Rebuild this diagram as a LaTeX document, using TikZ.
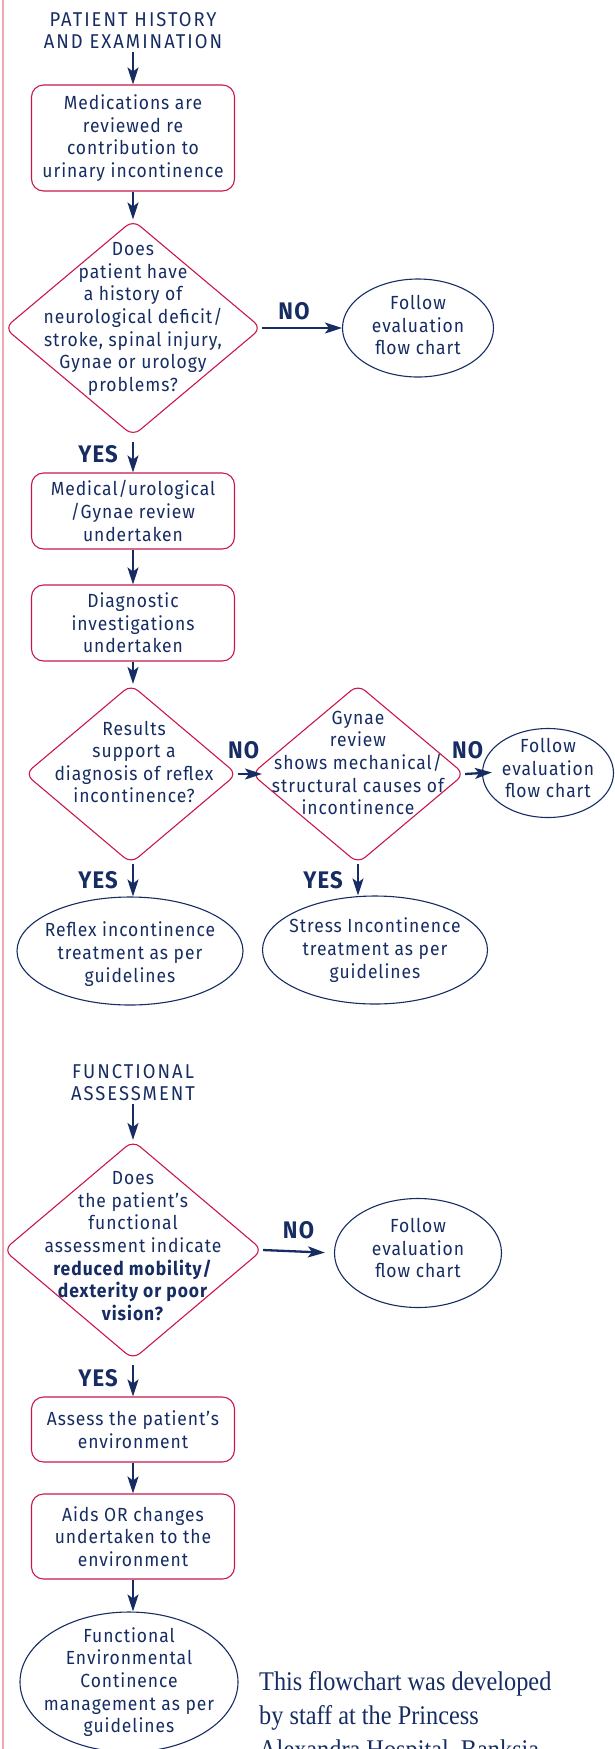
\documentclass[tikz,border=0pt]{standalone}
\usepackage{fontspec}
\setsansfont[LetterSpace=5.0, FakeStretch=0.92]{Fira Sans}
\newfontfamily\notefont[FakeStretch=0.9]{Liberation Serif}
\usetikzlibrary{arrows.meta,positioning,shapes.geometric}

\definecolor{navy}{RGB}{22,44,98}
\definecolor{crimson}{RGB}{200,24,74}
\definecolor{edgepink}{RGB}{238,170,180}

\begin{document}
\begin{tikzpicture}[
  x=1pt, y=-1pt,
  font=\sffamily\fontsize{19}{22.6}\selectfont,
  text=navy,
  box/.style={draw=crimson, line width=1.1pt, rounded corners=12pt, align=center, minimum width=203pt, inner sep=0pt},
  decision/.style={diamond, draw=crimson, line width=1.1pt, rounded corners=9pt, inner sep=0pt},
  term/.style={ellipse, draw=navy, line width=1.1pt, inner sep=0pt},
  inside/.style={align=center, text=navy, inner sep=0pt},
  heading/.style={align=center, inner sep=3pt, font=\sffamily\fontsize{20}{22}\selectfont\addfontfeature{LetterSpace=10.0}},
  answer/.style={font=\sffamily\bfseries\fontsize{24}{24}\selectfont, inner sep=2pt},
  note/.style={align=left, inner sep=0pt, font=\notefont\fontsize{27}{34}\selectfont},
  flow/.style={-{Stealth[length=17pt, width=11pt, inset=4pt]}, line width=2.3pt, draw=navy}
]
\useasboundingbox (0,0) rectangle (614,1749);
\draw[edgepink, line width=1.5pt] (3,0) -- (3,1749);

% patient history
\node[heading] (hist) at (133,31) {PATIENT HISTORY\\AND EXAMINATION};
\node[box, minimum height=106pt] (meds) at (133,138)
  {Medications are\\reviewed re\\contribution to\\urinary incontinence};
\node[decision, minimum width=257pt, minimum height=216pt,
  label={[inside, yshift=9pt]center:{Does\\patient have\\a history of\\neurological deficit/\\stroke, spinal injury,\\Gynae or urology\\problems?}}] (hasnr) at (133,328) {};
\node[term, minimum width=151pt, minimum height=98pt,
  label={[inside, yshift=3pt]center:{Follow\\evaluation\\flow chart}}] (evalA) at (418,328) {};
\node[box, minimum height=76pt] (review) at (133,511)
  {Medical/urological\\/Gynae review\\undertaken};
\node[box, minimum height=76pt] (diag) at (133,623)
  {Diagnostic\\investigations\\undertaken};
\node[decision, minimum width=212pt, minimum height=179pt,
  label={[inside, yshift=12pt, xshift=3pt]center:{Results\\support a\\diagnosis of reflex\\incontinence?}}] (results) at (131,774) {};
\node[decision, minimum width=213pt, minimum height=179pt,
  label={[inside, yshift=11pt]center:{Gynae\\review\\shows mechanical/\\structural causes of\\incontinence}}] (gynae) at (358,774) {};
\node[term, minimum width=131pt, minimum height=89pt,
  label={[inside, yshift=5pt]center:{Follow\\evaluation\\flow chart}}] (evalB) at (548,773) {};
\node[term, minimum width=226pt, minimum height=108pt,
  label={[inside, yshift=-3pt]center:{Reflex incontinence\\treatment as per\\guidelines}}] (reflex) at (130,951) {};
\node[term, minimum width=225pt, minimum height=108pt,
  label={[inside]center:{Stress Incontinence\\treatment as per\\guidelines}}] (stress) at (375,950) {};

\draw[flow] (hist.south) -- (meds.north);
\draw[flow] (meds.south) -- (hasnr.north);
\draw[flow] (hasnr.east) -- node[answer, above=5pt, pos=0.4] {NO} (evalA.west);
\draw[flow, shorten <=5pt] (hasnr.south) -- node[answer, left=12pt] {YES} (review.north);
\draw[flow] (review.south) -- (diag.north);
\draw[flow] (diag.south) -- (diag.south |- results.north);
\draw[flow, shorten >=-11pt] (results.east) -- node[answer, above=12pt, pos=0.45] {NO} (gynae.west);
\draw[flow, shorten >=-10pt] (gynae.east) -- node[answer, above=12pt, pos=0.15] {NO} (evalB.west);
\draw[flow] (results.south -| diag.south) -- node[answer, left=12pt] {YES} (diag.south |- reflex.north);
\draw[flow] (gynae.south) -- node[answer, left=12pt] {YES} (gynae.south |- stress.north);

% functional assessment
\node[heading] (func) at (133,1083) {FUNCTIONAL\\ASSESSMENT};
\node[decision, minimum width=259pt, minimum height=219pt,
  label={[inside, yshift=4pt]center:{Does\\the patient’s\\functional\\assessment indicate\\\textbf{reduced mobility/}\\\textbf{dexterity or poor}\\\textbf{vision?}}}] (mobility) at (133,1250) {};
\node[term, minimum width=167pt, minimum height=109pt,
  label={[inside, yshift=5pt]center:{Follow\\evaluation\\flow chart}}] (evalC) at (418,1253) {};
\node[box, minimum height=65pt] (assess) at (133,1429.5)
  {Assess the patient’s\\environment};
\node[box, minimum height=85pt] (aids) at (133,1536.5)
  {Aids OR changes\\undertaken to the\\environment};
\node[term, minimum width=218pt, minimum height=140pt,
  label={[inside]center:{Functional\\Environmental\\Continence\\management as per\\guidelines}}] (manage) at (129,1682) {};

\node[note, anchor=north west] (credit) at (259,1671)
  {This flowchart was developed\\by staff at the Princess\\Alexandra Hospital, Banksia};

\draw[flow] (func.south) -- (mobility.north);
\draw[flow, shorten >=9pt] (mobility.east) -- node[answer, above=9pt, pos=0.5] {NO} (evalC.west);
\draw[flow, shorten <=5pt] (mobility.south) -- node[answer, left=12pt] {YES} (assess.north);
\draw[flow] (assess.south) -- (aids.north);
\draw[flow] (aids.south) -- (aids.south |- manage.north);

\end{tikzpicture}
\end{document}
